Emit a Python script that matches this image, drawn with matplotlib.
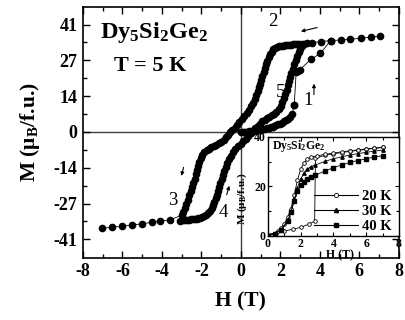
import matplotlib
matplotlib.use('Agg')
import matplotlib.pyplot as plt
from matplotlib.lines import Line2D

plt.rcParams.update({
    'font.family': ['Liberation Serif', 'DejaVu Serif'],
    'font.weight': 'bold',
    'axes.labelweight': 'bold',
    'mathtext.fontset': 'custom',
    'mathtext.rm': 'Liberation Serif:bold',
    'mathtext.it': 'Liberation Serif:bold:italic',
    'mathtext.bf': 'Liberation Serif:bold',
    'axes.unicode_minus': False,
})

# ---------------- main data (5 K loop) ----------------
# branch 1 : virgin curve
h_virgin = [0.0, 0.1, 0.2, 0.3, 0.4, 0.5, 0.6, 0.7, 0.8, 0.9, 1.0, 1.1, 1.2, 1.3, 1.4,
            1.5, 1.6, 1.7, 1.8, 1.9, 2.0, 2.1, 2.2, 2.3, 2.4, 2.5, 2.6, 2.7]
m_virgin = [0.0, 0.05, 0.1, 0.15, 0.2, 0.3, 0.4, 0.5, 0.6, 0.7, 0.85, 1.0, 1.15, 1.35, 1.55,
            1.8, 2.0, 2.3, 2.6, 2.9, 3.2, 3.6, 4.0, 4.5, 5.0, 5.6, 7.0, 10.3]
h_virgin_hi = [2.7, 2.8, 2.9, 3.0, 3.53, 4.03, 4.54]
m_virgin_hi = [10.3, 23.0, 23.4, 23.8, 27.7, 30.0, 34.9]

# branch 2 -> 3 : descending from 7 T
h_down = [7.07, 6.57, 6.08, 5.55, 5.05, 4.54, 4.05, 3.58, 3.07,
          2.95, 2.85, 2.75, 2.65, 2.55, 2.45, 2.35, 2.25, 2.15, 2.05, 1.95, 1.85, 1.75,
          1.65, 1.55, 1.47, 1.40, 1.33, 1.27, 1.21, 1.15, 1.09, 1.03, 0.97, 0.91, 0.85,
          0.78, 0.70, 0.62, 0.52, 0.42, 0.30, 0.18, 0.05, -0.08, -0.2, -0.32, -0.44,
          -0.55, -0.66, -0.77, -0.88, -1.0, -1.12, -1.25, -1.38, -1.5, -1.62, -1.74,
          -1.85, -1.95, -2.03, -2.1, -2.17, -2.23, -2.29, -2.35, -2.41, -2.47, -2.54,
          -2.61, -2.68, -2.76, -2.84, -2.92, -3.0,
          -3.6, -4.1, -4.52, -5.03, -5.53, -6.04, -6.55, -7.05]
m_down = [36.6, 36.2, 35.8, 35.4, 35.1, 34.9, 34.5, 34.1, 33.7,
          33.6, 33.5, 33.5, 33.4, 33.3, 33.3, 33.2, 33.1, 33.0, 32.9, 32.7, 32.5, 32.1,
          31.5, 30.7, 29.6, 28.5, 27.2, 25.9, 24.5, 23.0, 21.5, 20.0, 18.5, 17.0, 15.6,
          14.1, 12.6, 11.2, 9.8, 8.5, 7.2, 6.0, 4.8, 3.7, 2.7, 1.7, 0.8,
          -0.1, -1.0, -2.0, -2.9, -3.7, -4.4, -5.0, -5.5, -5.9, -6.4, -7.0,
          -7.8, -8.8, -10.0, -11.5, -13.0, -14.6, -16.2, -17.8, -19.4, -21.0, -22.6,
          -24.2, -25.8, -27.4, -29.0, -30.5, -31.8,
          -33.6, -34.0, -34.5, -35.1, -35.5, -36.0, -36.4, -36.8]

# branch 4 -> 5 : ascending from -3 T
h_up = [-3.09, -2.95, -2.85, -2.75, -2.65, -2.55, -2.45, -2.35, -2.25, -2.15, -2.05,
        -1.95, -1.85, -1.75, -1.65, -1.57, -1.49, -1.42, -1.35, -1.28, -1.22, -1.16,
        -1.10, -1.04, -0.98, -0.92, -0.85, -0.78, -0.70, -0.61, -0.51, -0.40, -0.28,
        -0.15, 0.0, 0.13, 0.25, 0.37, 0.49, 0.6, 0.72, 0.84, 0.96, 1.08, 1.2, 1.32,
        1.44, 1.56, 1.68, 1.8, 1.92, 2.02, 2.1, 2.18, 2.25, 2.31, 2.37, 2.43, 2.49,
        2.56, 2.63, 2.7, 2.77, 2.85, 2.93, 3.01, 3.1, 3.22, 3.35]
m_up = [-33.9, -33.8, -33.7, -33.6, -33.5, -33.4, -33.3, -33.2, -33.1, -32.9, -32.7,
        -32.5, -32.1, -31.6, -31.0, -30.2, -29.2, -28.0, -26.7, -25.3, -23.9, -22.4,
        -20.9, -19.4, -17.9, -16.4, -14.9, -13.4, -11.9, -10.5, -9.1, -7.8, -6.6,
        -5.5, -4.5, -3.5, -2.5, -1.5, -0.5, 0.4, 1.4, 2.3, 3.2, 4.0, 4.7, 5.3,
        5.8, 6.3, 6.9, 7.7, 8.7, 10.0, 11.5, 13.0, 14.6, 16.2, 17.8, 19.4, 21.0,
        22.6, 24.2, 25.8, 27.4, 29.0, 30.5, 31.8, 32.9, 33.6, 34.0]

x_ticks = [-8, -6, -4, -2, 0, 2, 4, 6, 8]
y_ticks = [-41, -27.33, -13.67, 0, 13.67, 27.33, 41]
y_ticklabels = ['-41', '-27', '-14', '0', '14', '27', '41']

# ---------------- inset data ----------------
h20_up = [0.0, 0.5, 1.0, 1.5, 2.0, 2.5, 2.85, 2.9, 3.5, 4.0, 4.5, 5.0, 5.5, 6.0, 6.5, 7.0]
m20_up = [0.5, 1.3, 2.0, 2.7, 3.5, 4.8, 6.0, 31.5, 32.6, 33.2, 33.7, 34.2, 34.6, 35.0, 35.4, 35.8]
h20_dn = [7.0, 6.5, 6.0, 5.5, 5.0, 4.5, 4.0, 3.5, 3.0, 2.6, 2.4, 2.2, 2.0, 1.8, 1.6,
          1.4, 1.2, 1.0, 0.8, 0.6, 0.4, 0.2, 0.0]
m20_dn = [35.8, 35.5, 35.2, 34.8, 34.4, 34.0, 33.5, 33.0, 32.4, 31.8, 31.0, 29.5, 27.0,
          22.5, 16.5, 11.0, 7.5, 5.0, 3.3, 2.0, 1.0, 0.4, 0.0]
h30 = [0.0, 0.4, 0.8, 1.2, 1.4, 1.6, 1.8, 2.0, 2.2, 2.4, 2.6, 2.9, 3.5, 4.0, 4.5, 5.0,
       5.5, 6.0, 6.5, 7.0]
m30 = [0.0, 1.0, 2.5, 6.0, 9.5, 14.5, 19.5, 23.0, 25.5, 27.0, 28.0, 28.7, 30.2, 31.2,
       32.0, 32.7, 33.3, 33.8, 34.3, 34.7]
h40 = [0.0, 0.4, 0.8, 1.2, 1.4, 1.6, 1.8, 2.0, 2.2, 2.4, 2.6, 2.9, 3.5, 4.0, 4.5, 5.0,
       5.5, 6.0, 6.5, 7.0]
m40 = [0.0, 1.0, 2.5, 6.0, 9.5, 14.0, 18.0, 20.5, 22.0, 23.2, 24.0, 24.6, 26.3, 27.6,
       28.7, 29.7, 30.5, 31.2, 31.9, 32.4]

# ---------------- figure ----------------
fig = plt.figure(figsize=(4.06, 3.2), dpi=100)
ax = fig.add_axes([0.2044, 0.194, 0.778, 0.784])

ax.axhline(0, color='#404040', lw=1.0, zorder=1)
ax.axvline(0, color='#404040', lw=1.0, zorder=1)

mk = dict(color='black', marker='o', markersize=4.5, lw=0.6, zorder=3)
ax.plot(h_virgin, m_virgin, **mk)
ax.plot(h_virgin_hi, m_virgin_hi, **mk)
ax.plot(h_down, m_down, **mk)
ax.plot(h_up, m_up, **mk)

ax.set_xlim(-8, 8)
ax.set_ylim(-48.1, 47.7)
ax.set_xticks(x_ticks)
ax.set_xticks([-7, -5, -3, -1, 1, 3, 5, 7], minor=True)
ax.set_yticks(y_ticks)
ax.set_yticklabels(y_ticklabels)
ax.set_yticks([-34.17, -20.5, -6.83, 6.83, 20.5, 34.17], minor=True)
ax.tick_params(which='both', direction='in', top=True, right=True, width=1.0,
               labelsize=13, pad=4)
ax.tick_params(which='major', length=5)
ax.tick_params(which='minor', length=3)
for t in ax.get_xticklabels() + ax.get_yticklabels():
    t.set_fontweight('bold')
for s in ax.spines.values():
    s.set_linewidth(1.2)

ax.set_xlabel('H (T)', fontsize=15.5, labelpad=8)
ax.set_ylabel('M (μ$_\\mathrm{B}$/f.u.)', fontsize=15.5, labelpad=8)

ax.text(-4.4, 37.8, 'Dy$_5$Si$_2$Ge$_2$', fontsize=17.5, ha='center', va='center')
ax.text(-4.6, 25.0, 'T = 5 K', fontsize=16, ha='center', va='center')

lab = dict(fontsize=13.5, fontweight='normal', ha='center', va='center')
ax.text(1.62, 42.0, '2', **lab)
ax.text(2.0, 14.9, '5', **lab)
ax.text(3.39, 12.2, '1', **lab)
ax.text(-3.44, -26.0, '3', **lab)
ax.text(-0.91, -30.9, '4', **lab)

arr = dict(arrowstyle='-|>', lw=0.8, color='black', mutation_scale=5)
ax.annotate('', xy=(2.9, 38.2), xytext=(4.0, 40.1), arrowprops=arr)
ax.annotate('', xy=(3.7, 19.5), xytext=(3.7, 13.2), arrowprops=arr)
ax.annotate('', xy=(-3.05, -17.8), xytext=(-2.87, -12.5), arrowprops=arr)
ax.annotate('', xy=(-0.55, -19.5), xytext=(-0.76, -25.0), arrowprops=arr)

# ---------------- inset ----------------
ins = fig.add_axes([0.660, 0.2625, 0.3227, 0.3094])
ins.set_facecolor('white')
ins.plot(h20_up, m20_up, color='black', lw=0.6, marker='o', markersize=2.6,
         mfc='white', mew=0.6)
ins.plot(h20_dn, m20_dn, color='black', lw=0.6, marker='o', markersize=2.6,
         mfc='white', mew=0.6)
ins.plot(h30, m30, color='black', lw=0.6, marker='^', markersize=2.4)
ins.plot(h40, m40, color='black', lw=0.6, marker='s', markersize=2.2)
ins.set_xlim(0, 8)
ins.set_ylim(0, 40)
ins.set_xticks([0, 2, 4, 6, 8])
ins.set_xticks([1, 3, 5, 7], minor=True)
ins.set_yticks([0, 20, 40])
ins.set_yticks([10, 30], minor=True)
ins.tick_params(which='both', direction='in', top=True, right=True, labelsize=8.5,
                pad=1.5, width=0.8)
ins.tick_params(which='major', length=3)
ins.tick_params(which='minor', length=2)
for t in ins.get_xticklabels() + ins.get_yticklabels():
    t.set_fontweight('bold')
for s in ins.spines.values():
    s.set_linewidth(1.0)
ins.set_xlabel('H (T)', fontsize=8.5, labelpad=-1)
ins.set_ylabel('M (μ$_\\mathrm{B}$/f.u.)', fontsize=8, labelpad=0)
ins.yaxis.set_label_coords(-0.145, 0.38)
ins.xaxis.set_label_coords(0.55, -0.13)
ins.text(0.03, 0.91, 'Dy$_5$Si$_2$Ge$_2$', transform=ins.transAxes, fontsize=8.5,
         ha='left', va='center')

handles = [
    Line2D([], [], color='black', lw=0.8, marker='o', markersize=3, mfc='white', mew=0.6),
    Line2D([], [], color='black', lw=0.8, marker='^', markersize=3),
    Line2D([], [], color='black', lw=0.8, marker='s', markersize=2.6),
]
ins.legend(handles, ['20 K', '30 K', '40 K'], loc='lower right',
           bbox_to_anchor=(1.0, -0.04), frameon=False, fontsize=10.5,
           handlelength=3.0, handletextpad=0.3, labelspacing=0.1,
           borderaxespad=0.1)

fig.savefig('out.png', dpi=100)
